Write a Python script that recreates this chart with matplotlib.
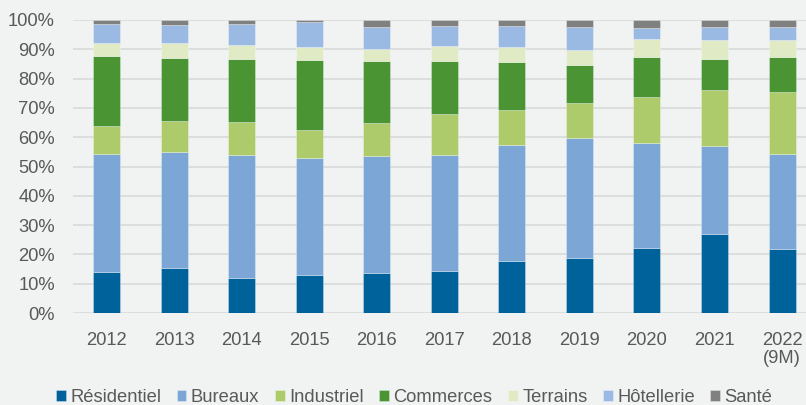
import matplotlib
matplotlib.use("Agg")
import matplotlib.pyplot as plt
import numpy as np

years = ["2012", "2013", "2014", "2015", "2016", "2017", "2018", "2019", "2020", "2021", "2022\n(9M)"]
residentiel = [13.9, 15.2, 11.8, 13.0, 13.7, 14.4, 17.9, 18.9, 22.3, 27.0, 22.0]
bureaux     = [40.5, 39.9, 42.2, 40.0, 39.8, 39.6, 39.6, 40.9, 35.6, 30.1, 32.2]
industriel  = [9.5, 10.3, 11.1, 9.5, 11.2, 13.9, 11.8, 12.0, 15.8, 19.1, 21.3]
commerces   = [23.8, 21.6, 21.7, 23.7, 21.4, 18.0, 16.4, 12.8, 13.8, 10.6, 12.0]
terrains    = [4.5, 5.3, 4.6, 4.5, 4.1, 5.2, 5.0, 5.3, 6.1, 6.4, 5.7]
hotellerie  = [6.4, 6.1, 7.2, 8.7, 7.5, 6.9, 7.3, 7.7, 3.7, 4.3, 4.4]
sante       = [1.4, 1.6, 1.4, 0.6, 2.3, 2.0, 2.0, 2.4, 2.7, 2.5, 2.4]

series = [
    ("Résidentiel", residentiel, "#00629B"),
    ("Bureaux", bureaux, "#7BA6D6"),
    ("Industriel", industriel, "#ADCB6B"),
    ("Commerces", commerces, "#4A9433"),
    ("Terrains", terrains, "#E0EBC6"),
    ("Hôtellerie", hotellerie, "#9BBAE3"),
    ("Santé", sante, "#808080"),
]

bg = "#F0F3F2"
txt = "#595959"
plt.rcParams["font.family"] = ["Liberation Sans", "DejaVu Sans"]
fs = 13.2

fig = plt.figure(figsize=(8.06, 4.05), dpi=100, facecolor=bg)
ax = fig.add_axes([73 / 806, 92 / 405, 733 / 806, 293 / 405], facecolor=bg)

x = np.arange(len(years))
bottom = np.zeros(len(years))
for name, vals, col in series:
    v = np.array(vals)
    ax.bar(x, v, 0.4, bottom=bottom, color=col, label=name,
           edgecolor=(1, 1, 1, 0.35), linewidth=0.6, zorder=3)
    bottom += v

ax.set_xlim(-0.496, 10.355)
ax.set_ylim(0, 100)
ax.set_yticks(np.arange(0, 101, 10))
ax.set_yticklabels([f"{v}%" for v in range(0, 101, 10)])
ax.set_xticks(x)
ax.set_xticklabels(years, linespacing=1.05)
ax.yaxis.grid(True, color="#D9D9D9", linewidth=1.2, zorder=0)
ax.set_axisbelow(True)
for s in ax.spines.values():
    s.set_visible(False)
ax.tick_params(axis="both", length=0, labelsize=fs, colors=txt)
ax.tick_params(axis="y", pad=13)
ax.tick_params(axis="x", pad=14)

leg = fig.legend(loc="center", bbox_to_anchor=(0.514, 0.018), ncol=7, frameon=False,
                 fontsize=fs, handlelength=0.52, handleheight=0.52,
                 handletextpad=0.25, columnspacing=0.85, labelcolor=txt)

fig.savefig("out.png", dpi=100, facecolor=bg)
